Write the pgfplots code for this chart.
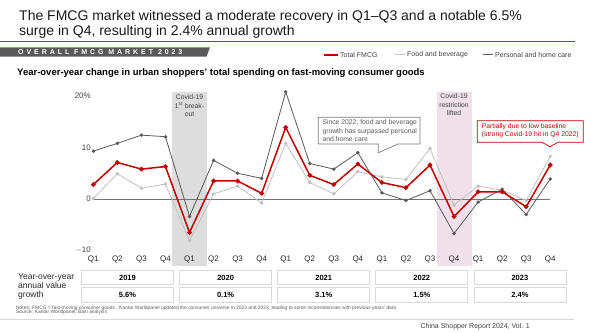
\documentclass[border=0pt]{standalone}
\usepackage{pgfplots}
\pgfplotsset{compat=1.18}
\usepackage{pgfplotstable}
\usepackage{fontspec}
\setmainfont{Liberation Sans}
\definecolor{fmred}{RGB}{192,0,0}
\definecolor{fblight}{RGB}{191,191,191}
\definecolor{phdark}{RGB}{89,89,89}
\definecolor{bandgray}{RGB}{221,221,221}
\definecolor{bandpink}{RGB}{240,224,234}
\definecolor{txt}{RGB}{64,64,64}
\definecolor{boxline}{RGB}{217,217,217}

\pgfplotstableread{
i tot fb ph
0 2.8 0.1 9.3
1 7.1 4.9 10.8
2 5.8 2.1 12.4
3 6.3 2.9 12.1
4 -6.5 -8.1 -3.4
5 3.5 1.0 7.5
6 3.5 2.5 5.0
7 1.1 -0.8 4.0
8 13.9 10.8 20.8
9 4.6 3.2 6.9
10 2.8 1.0 5.8
11 6.8 5.3 9.0
12 3.2 4.3 1.2
13 2.2 3.8 -0.3
14 6.6 9.8 1.6
15 -3.4 -1.2 -6.7
16 1.4 2.5 -0.6
17 1.4 1.7 1.9
18 -1.5 -0.3 -3.0
19 6.6 8.3 3.9
}\datatab

\begin{document}
\begin{tikzpicture}[x=1pt,y=1pt]
\path[use as bounding box] (0,0) rectangle (591,332);

% title
\node[anchor=base west, inner sep=0, font=\fontsize{14}{14}\selectfont, text=black!90] at (19,311) {The FMCG market witnessed a moderate recovery in Q1--Q3 and a notable 6.5\%};
\node[anchor=base west, inner sep=0, font=\fontsize{14}{14}\selectfont, text=black!90] at (19,296.5) {surge in Q4, resulting in 2.4\% annual growth};
\draw[fmred!85, line width=0.8pt] (0,290.3) -- (575,290.3);

% banner
\fill[phdark] (0,284.7) -- (210,284.7) -- (206.5,275.3) -- (0,275.3) -- cycle;
\node[anchor=base west, inner sep=0, text=white, font=\fontsize{7}{7}\selectfont\bfseries\addfontfeature{LetterSpace=42}] at (18,277.4) {OVERALL FMCG MARKET 2023};

% legend
\draw[fmred, line width=1.5pt] (324,277) -- (338,277);
\node[anchor=west, inner sep=0, font=\fontsize{7}{7}\selectfont, text=txt] at (340,277) {Total FMCG};
\draw[fblight, line width=1pt] (395,277) -- (405,277);
\node[anchor=west, inner sep=0, font=\fontsize{7}{7}\selectfont, text=txt] at (407,277) {Food and beverage};
\draw[phdark, line width=1pt] (483,277) -- (493,277);
\node[anchor=west, inner sep=0, font=\fontsize{7}{7}\selectfont, text=txt] at (495,277) {Personal and home care};

% subtitle
\node[anchor=base west, inner sep=0, font=\fontsize{9.5}{9.5}\selectfont\bfseries, text=black] at (17,256.3) {Year-over-year change in urban shoppers' total spending on fast-moving consumer goods};

\begin{axis}[at={(69.25pt,66.05pt)}, anchor=south west, scale only axis,
  width=505.05pt, height=175.1pt, xmin=-1, xmax=20, ymin=-13, ymax=21,
  hide axis, clip=false]
\fill[bandgray] (axis cs:3.27,-12.95) rectangle (axis cs:4.73,20.83);
\fill[bandpink] (axis cs:14.27,-12.95) rectangle (axis cs:15.73,20.83);
\draw[black!55, line width=0.6pt] (axis cs:0,0) -- (axis cs:19,0);
\addplot[fblight, line width=0.8pt, mark=*, mark size=1.3pt] table[x=i,y=fb]{\datatab};
\addplot[phdark, line width=0.8pt, mark=*, mark size=1.3pt] table[x=i,y=ph]{\datatab};
\addplot[fmred, line width=1.5pt, mark=*, mark size=1.5pt] table[x=i,y=tot]{\datatab};
\end{axis}

% y labels
\foreach \v/\l in {20/20\%,10/10,0/0,-10/$-$10}
  \node[anchor=east, inner sep=0, font=\fontsize{8}{8}\selectfont, text=txt] at (91,{332-199+5.15*\v}) {\l};

% quarter labels
\foreach \i/\q in {0/Q1,1/Q2,2/Q3,3/Q4,4/Q1,5/Q2,6/Q3,7/Q4,8/Q1,9/Q2,10/Q3,11/Q4,12/Q1,13/Q2,14/Q3,15/Q4,16/Q1,17/Q2,18/Q3,19/Q4}
  \node[inner sep=0, font=\fontsize{8}{8}\selectfont, text=black!85] at ({93.3+24.05*\i},72.7) {\q};

% band notes
\node[align=center, inner sep=0, font=\fontsize{6.8}{8.6}\selectfont, text=txt, anchor=north] at (189.5,237.5) {Covid-19\\1\textsuperscript{st} break-\\out};
\node[align=center, inner sep=0, font=\fontsize{6.8}{8.6}\selectfont, text=txt, anchor=north] at (454,238.5) {Covid-19\\restriction\\lifted};

% gray callout
\draw[phdark!80, line width=0.7pt, fill=white] (318.3,214.7) -- (420,214.7) -- (420,188) -- (398,188) -- (378.3,179.3) -- (378.3,188) -- (318.3,188) -- cycle;
\node[align=left, anchor=north west, inner sep=0, font=\fontsize{6.8}{8.2}\selectfont, text=phdark] at (322.3,212.3) {Since 2022, food and beverage\\growth has surpassed personal\\and home care};

% red callout
\draw[fmred, line width=0.7pt, fill=white] (477.3,211.3) -- (583.3,211.3) -- (583.3,189.7) -- (558,189.7) -- (550,185.3) -- (542,189.7) -- (477.3,189.7) -- cycle;
\node[align=left, anchor=north west, inner sep=0, font=\fontsize{6.8}{7.8}\selectfont, text=fmred] at (481.7,208.3) {Partially due to low baseline\\(strong Covid-19 hit in Q4 2022)};

% table
\node[anchor=base west, inner sep=0, font=\fontsize{8.5}{8.5}\selectfont, text=black!85] at (18,53) {Year-over-year};
\node[anchor=base west, inner sep=0, font=\fontsize{8.5}{8.5}\selectfont, text=black!85] at (18,43.7) {annual value};
\node[anchor=base west, inner sep=0, font=\fontsize{8.5}{8.5}\selectfont, text=black!85] at (18,34.5) {growth};
\foreach \k/\yr/\g in {0/2019/5.6\%,1/2020/0.1\%,2/2021/3.1\%,3/2022/1.5\%,4/2023/2.4\%}{
  \draw[boxline, line width=0.8pt] ({127.5+98.1*\k-46},61.3) rectangle ({127.5+98.1*\k+46},47.7);
  \draw[boxline, line width=0.8pt] ({127.5+98.1*\k-46},44.3) rectangle ({127.5+98.1*\k+46},29.7);
  \node[font=\fontsize{7.5}{7.5}\selectfont\bfseries, inner sep=0] at ({127.5+98.1*\k},54.5) {\yr};
  \node[font=\fontsize{7.5}{7.5}\selectfont\bfseries, inner sep=0] at ({127.5+98.1*\k},37) {\g};
}

% notes
\node[anchor=base west, inner sep=0, font=\fontsize{4.9}{4.9}\selectfont, text=phdark] at (16,22.8) {Notes: FMCG = fast-moving consumer goods ; Kantar Worldpanel updated the consumer universe in 2022 and 2023, leading to some inconsistencies with previous years' data};
\node[anchor=base west, inner sep=0, font=\fontsize{4.9}{4.9}\selectfont, text=phdark] at (16,18.2) {Source: Kantar Worldpanel; Bain analysis};
\draw[boxline, line width=0.8pt] (0,13) -- (574,13);
\node[anchor=base east, inner sep=0, font=\fontsize{7}{7}\selectfont, text=txt] at (530,3.5) {China Shopper Report 2024, Vol. 1};
\end{tikzpicture}
\end{document}
